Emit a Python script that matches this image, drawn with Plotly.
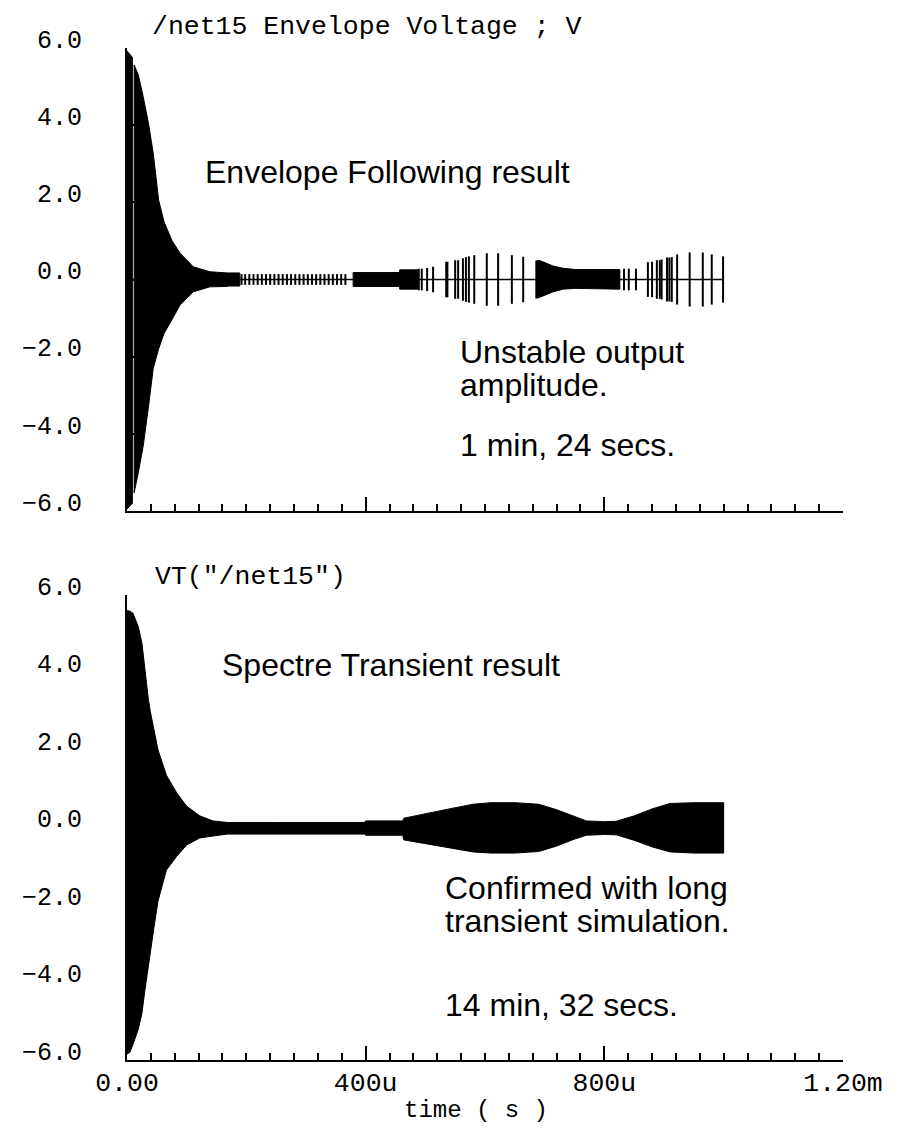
import plotly.graph_objects as go

# screenshot size and the page's default body margin
SHOT_W, SHOT_H = 922, 1136
OFF = 8
W, H = SHOT_W - OFF, SHOT_H - OFF

# ---------------- data (time in microseconds, voltage in volts) ----------------
# Top panel: envelope-following result
top_head_t = [0, 9]
top_head_hi = [5.92, 5.76]
top_head_lo = [-5.95, -5.80]

top_decay_t = [12, 19, 27, 36, 44, 50, 53, 62, 75, 89, 111, 139, 168]
top_decay_hi = [5.56, 5.30, 4.75, 4.05, 3.27, 2.40, 2.06, 1.50, 1.02, 0.68, 0.33, 0.20, 0.17]
top_decay_lo = [-5.53, -5.00, -4.33, -3.30, -2.30, -1.95, -1.80, -1.40, -1.05, -0.66, -0.32, -0.19, -0.18]

top_band_start = [168, 379, 457]
top_band_end = [189, 457, 488]
top_band_amp = [0.17, 0.18, 0.25]

top_blob_t = [688, 692, 714, 731, 751, 826]
top_blob_hi = [0.49, 0.49, 0.35, 0.29, 0.26, 0.26]
top_blob_lo = [-0.47, -0.46, -0.32, -0.25, -0.23, -0.25]

top_spike_t = [192, 198, 205, 212, 219, 226, 233, 240, 247, 254, 261, 268, 275,
               282, 289, 296, 303, 310, 317, 324, 331, 338, 345, 352, 359, 366,
               489, 494, 503, 513, 535, 537, 550, 555, 563, 568, 573, 582, 603,
               622, 645, 664, 686, 688,
               833, 841, 853, 873, 880, 888, 893, 896, 905, 909, 913, 922, 943,
               965, 980, 999]
top_spike_amp = [0.14, 0.14, 0.14, 0.14, 0.14, 0.14, 0.14, 0.14, 0.14, 0.14, 0.14, 0.14, 0.14,
                 0.14, 0.14, 0.14, 0.14, 0.14, 0.14, 0.14, 0.14, 0.14, 0.14, 0.14, 0.14, 0.14,
                 0.28, 0.28, 0.30, 0.33, 0.46, 0.46, 0.50, 0.50, 0.55, 0.58, 0.60, 0.63, 0.68,
                 0.68, 0.63, 0.59, 0.49, 0.49,
                 0.28, 0.28, 0.28, 0.45, 0.46, 0.50, 0.50, 0.52, 0.57, 0.57, 0.58, 0.65, 0.70,
                 0.70, 0.65, 0.60]

top_zero_t = [0, 1000]
top_zero_v = [0, 0]

# Bottom panel: Spectre transient result (envelope of the dense oscillation)
bot_t = [0, 5, 10, 19, 25, 30, 36, 39, 45, 52, 66, 83, 100, 122, 144, 168, 250, 398,
         400, 462, 464, 500, 540, 580, 610, 650, 690, 720, 750, 770, 800, 820, 850,
         880, 910, 950, 1000]
bot_hi = [5.60, 5.58, 5.53, 5.18, 4.76, 4.06, 3.29, 3.00, 2.50, 2.00, 1.35, 0.90, 0.55,
          0.30, 0.17, 0.13, 0.13, 0.13, 0.17, 0.17, 0.24, 0.36, 0.48, 0.60, 0.64, 0.64,
          0.60, 0.46, 0.28, 0.17, 0.15, 0.16, 0.30, 0.48, 0.62, 0.64, 0.64]
bot_lo = [-5.85, -5.80, -5.60, -5.20, -4.80, -4.20, -3.50, -3.20, -2.60, -1.90, -1.10,
          -0.75, -0.45, -0.27, -0.22, -0.17, -0.17, -0.17, -0.20, -0.20, -0.32, -0.42,
          -0.52, -0.63, -0.66, -0.66, -0.62, -0.48, -0.30, -0.20, -0.18, -0.19, -0.33,
          -0.50, -0.63, -0.66, -0.66]

y_tick_vals = [-6, -4, -2, 0, 2, 4, 6]
y_tick_text = ["\u22126.0", "\u22124.0", "\u22122.0", "0.0", "2.0", "4.0", "6.0"]
x_tick_vals = [0, 400, 800, 1200]
x_tick_text = ["0.00", "400u", "800u", "1.20m"]

top_title = "/net15 Envelope Voltage ; V"
bot_title = 'VT("/net15")'
x_title = "time ( s )"

# ---------------- helpers (screenshot pixel -> paper fraction) ----------------
def px(x):
    return (x - OFF) / W

def py(y):
    return 1 - (y - OFF) / H

def envelope_poly(t, hi, lo):
    xs = list(t) + list(t)[::-1] + [t[0]]
    ys = list(hi) + list(lo)[::-1] + [hi[0]]
    return xs, ys

BLACK = "black"
MONO = "Liberation Mono"
SANS = "Liberation Sans, Arial"

fig = go.Figure()

def fill_trace(xs, ys, xa, ya):
    fig.add_trace(go.Scatter(x=xs, y=ys, mode="lines", fill="toself",
                             fillcolor=BLACK, line=dict(color=BLACK, width=1),
                             hoverinfo="skip", xaxis=xa, yaxis=ya))

# top panel
xs, ys = envelope_poly(top_head_t, top_head_hi, top_head_lo)
fill_trace(xs, ys, "x", "y")
xs, ys = envelope_poly(top_decay_t, top_decay_hi, top_decay_lo)
fill_trace(xs, ys, "x", "y")
bx, by = [], []
for s, e, a in zip(top_band_start, top_band_end, top_band_amp):
    bx += [s, e, e, s, s, None]
    by += [a, a, -a, -a, a, None]
fill_trace(bx, by, "x", "y")
xs, ys = envelope_poly(top_blob_t, top_blob_hi, top_blob_lo)
fill_trace(xs, ys, "x", "y")

sx, sy = [], []
for t, a in zip(top_spike_t, top_spike_amp):
    sx += [t, t, None]
    sy += [a, -a, None]
fig.add_trace(go.Scatter(x=sx, y=sy, mode="lines", line=dict(color=BLACK, width=2),
                         hoverinfo="skip", xaxis="x", yaxis="y"))
fig.add_trace(go.Scatter(x=top_zero_t, y=top_zero_v, mode="lines",
                         line=dict(color=BLACK, width=1.5), hoverinfo="skip",
                         xaxis="x", yaxis="y"))

# bottom panel
xs, ys = envelope_poly(bot_t, bot_hi, bot_lo)
fill_trace(xs, ys, "x2", "y2")

x_dom = [px(127), px(843)]
top_dom = [py(511), py(48)]
bot_dom = [py(1060), py(595)]

def xaxis_cfg(anchor, labels):
    return dict(domain=x_dom, range=[0, 1200], anchor=anchor, showgrid=False,
                zeroline=False, showline=True, linecolor=BLACK, linewidth=2,
                automargin=False,
                ticks="inside", tickvals=x_tick_vals, ticktext=x_tick_text,
                ticklen=14, tickwidth=2, tickcolor=BLACK,
                showticklabels=labels,
                tickfont=dict(family=MONO, size=26.5, color=BLACK),
                ticklabelstandoff=-3,
                minor=dict(dtick=40, tick0=0, ticks="inside", ticklen=7,
                           tickwidth=2, tickcolor=BLACK, showgrid=False))

def yaxis_cfg(domain, anchor):
    return dict(domain=domain, range=[-6, 6], anchor=anchor, showgrid=False,
                zeroline=False, showline=True, linecolor=BLACK, linewidth=2,
                automargin=False,
                ticks="inside", tickvals=y_tick_vals, ticktext=y_tick_text,
                ticklen=9, tickwidth=2, tickcolor=BLACK,
                tickfont=dict(family=MONO, size=25, color=BLACK),
                ticklabelshift=-9, ticklabelstandoff=38)

fig.update_layout(
    width=W, height=H, margin=dict(l=0, r=0, t=0, b=0, autoexpand=False),
    paper_bgcolor="white", plot_bgcolor="white", showlegend=False,
    xaxis=xaxis_cfg("y", False), yaxis=yaxis_cfg(top_dom, "x"),
    xaxis2=xaxis_cfg("y2", True), yaxis2=yaxis_cfg(bot_dom, "x2"),
)

def note(text, x_left, y_center, size, family, anchor="left"):
    fig.add_annotation(text=text, x=px(x_left), y=py(y_center), xref="paper",
                       yref="paper", xanchor=anchor, yanchor="middle",
                       showarrow=False, font=dict(family=family, size=size, color=BLACK))

note(top_title, 150, 27, 26.5, MONO)
note(bot_title, 153, 577, 26.5, MONO)
note(x_title, 476, 1110, 24, MONO, anchor="center")

note("Envelope Following result", 203, 172, 32, SANS)
note("Unstable output", 458, 352, 32, SANS)
note("amplitude.", 458, 385, 32, SANS)
note("1 min, 24 secs.", 458, 445, 32, SANS)
note("Spectre Transient result", 220, 665, 32, SANS)
note("Confirmed with long", 443, 888, 32, SANS)
note("transient simulation.", 443, 921, 32, SANS)
note("14 min, 32 secs.", 443, 1005, 32, SANS)

fig.write_html("out.html")
